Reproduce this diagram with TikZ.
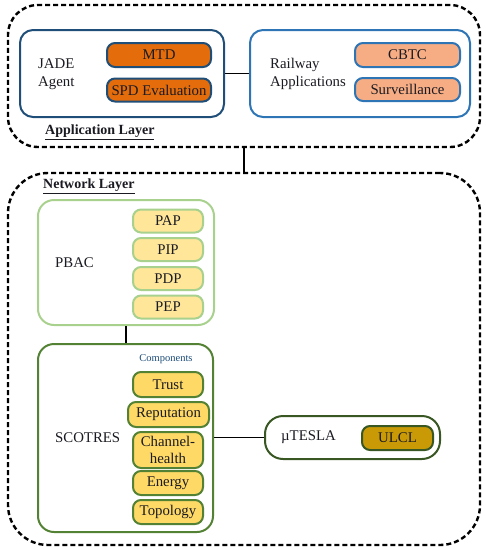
\documentclass[tikz,border=0pt]{standalone}
\usepackage{fontspec}
\setmainfont{Liberation Serif}
\usetikzlibrary{positioning}
\definecolor{cjade}{HTML}{1F4E79}
\definecolor{crail}{HTML}{2E75B6}
\definecolor{cmtd}{HTML}{E46C0A}
\definecolor{cpeach}{HTML}{F7AD84}
\definecolor{cpbac}{HTML}{A9D18E}
\definecolor{cpale}{HTML}{FFE699}
\definecolor{cscot}{HTML}{548235}
\definecolor{cgold}{HTML}{FFD966}
\definecolor{ctesla}{HTML}{385723}
\definecolor{culcl}{HTML}{C99A06}
\definecolor{ctext}{HTML}{1A1A22}
\tikzset{
  every picture/.style={font=\fontsize{14.8}{17.5}\selectfont, text=ctext},
  layer/.style={draw=black, dash pattern=on 5pt off 3pt, line width=2.4pt, rounded corners=#1, inner sep=0pt},
  layer/.default=30pt,
  group/.style={draw=#1, line width=2pt, fill=white, rounded corners=13pt, inner sep=0pt},
  pill/.style={draw=#1, line width=2pt, rounded corners=8pt, align=center, inner sep=1pt, minimum width=70pt, minimum height=24pt},
  label/.style={anchor=west, align=left, inner sep=0pt},
  title/.style={anchor=west, inner sep=0pt, font=\fontsize{14}{17}\selectfont\bfseries},
  link/.style={draw=black, line width=1.6pt},
}

\begin{document}
\begin{tikzpicture}[x=1pt, y=-1pt]
  \useasboundingbox (0,0) rectangle (486,550);
  % application layer
  \node[layer, minimum width=472pt, minimum height=142pt] (applayer) at (244,76) {};
  \node[group=cjade, minimum width=204pt, minimum height=87pt] (jade) at (122,73.5) {};
  \node[pill=cjade, fill=cmtd, minimum width=104pt] (mtd) at (159,55) {MTD};
  \node[pill=cjade, fill=cmtd, minimum width=104pt, minimum height=23pt] (spd) at (159,90) {SPD Evaluation};
  \node[label] (jadetxt) at (38,74) {JADE\\Agent};
  \node[group=crail, minimum width=220pt, minimum height=87pt] (rail) at (360,73.5) {};
  \node[pill=crail, fill=cpeach, minimum width=105pt] (cbtc) at (407.5,55) {CBTC};
  \node[pill=crail, fill=cpeach, minimum width=105pt, minimum height=23pt] (surv) at (407.5,89.5) {Surveillance};
  \node[label] (railtxt) at (270,74) {Railway\\Applications};
  \node[title] (apptitle) at (45,132) {\underline{Application Layer}};
  \draw[link] (jade) -- (rail);

  % network layer
  \node[layer=40pt, minimum width=472pt, minimum height=372pt] (netlayer) at (244,359) {};
  \node[title] (nettitle) at (43,186) {\underline{Network Layer}};
  \draw[link] (applayer) -- (netlayer);
  \node[group=cpbac, rounded corners=16pt, minimum width=176pt, minimum height=125pt] (pbac) at (126,262.5) {};
  \node[label] (pbactxt) at (55,263) {PBAC};
  \foreach \name/\y in {PAP/221, PIP/249.5, PDP/278.5, PEP/307}
    \node[pill=cpbac, fill=cpale, minimum height=23pt] (\name) at (168,\y) {\name};
  \node[group=cscot, rounded corners=16pt, minimum width=175pt, minimum height=188pt] (scot) at (125.5,438) {};
  \draw[link] (pbac) -- (pbac.south |- scot.north);
  \node[label] (scottxt) at (55,438) {SCOTRES};
  \node[inner sep=0pt, font=\fontsize{10.5}{12}\selectfont, text=cjade] (comp) at (166,359) {Components};
  \node[pill=cscot, fill=cgold, minimum height=25pt] (trust) at (168,384.5) {Trust};
  \node[pill=cscot, fill=cgold, minimum width=81pt, minimum height=25pt] (rep) at (168.5,414.5) {Reputation};
  \node[pill=cscot, fill=cgold, minimum height=36pt, font=\fontsize{14.8}{17}\selectfont] (chan) at (168,450) {Channel-\\health};
  \node[pill=cscot, fill=cgold] (energy) at (168,483) {Energy};
  \node[pill=cscot, fill=cgold] (topo) at (168,512) {Topology};
  \node[group=ctesla, rounded corners=18pt, minimum width=175pt, minimum height=43pt] (tesla) at (352.5,437.5) {};
  \node[label] (teslatxt) at (281,437.5) {µTESLA};
  \node[pill=ctesla, fill=culcl, minimum width=71pt] (ulcl) at (397.5,438) {ULCL};
  \draw[link] (scot.east |- tesla.west) -- (tesla);
\end{tikzpicture}
\end{document}
